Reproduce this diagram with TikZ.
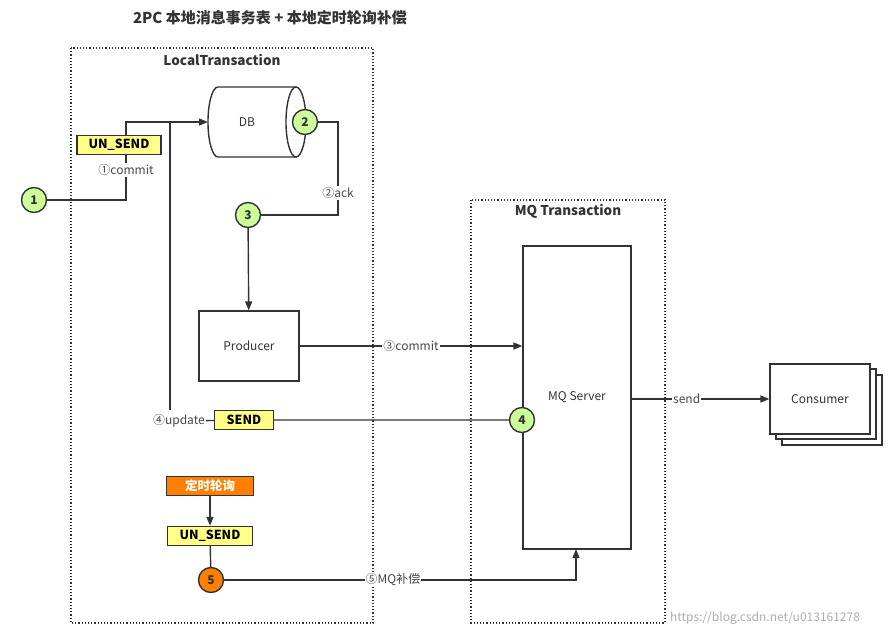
\documentclass[tikz,border=0pt]{standalone}
\usepackage{fontspec}
\setmainfont{Noto Sans CJK SC}
\usetikzlibrary{arrows.meta,shapes.geometric}
\definecolor{lc}{HTML}{333333}
\definecolor{gfill}{HTML}{CCFF99}
\definecolor{yfill}{HTML}{FFFF88}
\definecolor{ofill}{HTML}{FF8000}
\begin{document}
\begin{tikzpicture}[x=1pt,y=-1pt,
  fs/.style={font=\fontsize{12}{14}\selectfont},
  ln/.style={draw=lc,line width=1.4pt},
  arr/.style={ln,-{Triangle[length=9pt,width=7pt]}},
  circ/.style={circle,draw=lc,line width=1.4pt,fill=gfill,minimum size=25pt,inner sep=0pt,font=\fontsize{12}{14}\selectfont\bfseries,text=lc},
  tag/.style={rectangle,draw=lc,line width=1.4pt,fill=yfill,font=\fontsize{12.5}{14}\selectfont\bfseries,inner sep=0pt,minimum height=19pt},
  box/.style={rectangle,draw=lc,line width=1.2pt,fill=white,fs,text=lc},
  lbl/.style={fill=white,inner sep=1pt,fs,text=lc!90},
  frame/.style={draw=lc,line width=1.2pt,dotted}]
\useasboundingbox (0,0) rectangle (892,637);
\node[font=\fontsize{15}{18}\selectfont\bfseries,text=lc] (title) at (270,18) {2PC 本地消息事务表 + 本地定时轮询补偿};
\draw[frame] (71,48) rectangle (373,623);
\node[font=\fontsize{13.5}{16}\selectfont\bfseries,text=lc] (lt) at (222,60) {LocalTransaction};
\draw[frame] (471,200) rectangle (665,623);
\node[font=\fontsize{13.5}{16}\selectfont\bfseries,text=lc] (mt) at (568,211) {MQ Transaction};
% DB cylinder
\draw[ln,fill=white] (218,87) -- (296,87) -- (296,157) -- (218,157) .. controls (212.5,157) and (208,141.3) .. (208,122) .. controls (208,102.7) and (212.5,87) .. (218,87) -- cycle;
\draw[ln,fill=white] (296,122) ellipse [x radius=10, y radius=35];
\coordinate (db) at (208,122);
\node[fs,text=lc] (dbt) at (247,122) {DB};
\node[box,minimum width=100pt,minimum height=70pt] (prod) at (249,346) {Producer};
\node[box,minimum width=108pt,minimum height=303pt] (mq) at (577,397.5) {MQ Server};
\node[box,minimum width=100pt,minimum height=70pt] (c3) at (832,410) {};
\node[box,minimum width=100pt,minimum height=70pt] (c2) at (826,404) {};
\node[box,minimum width=100pt,minimum height=70pt] (cons) at (820,399) {Consumer};
\node[circ] (n1) at (34,200) {1};
\node[circ] (n2) at (305,122) {2};
\node[circ] (n3) at (248,215) {3};
\node[circ] (n4) at (522,420) {4};
\node[circ,fill=ofill] (n5) at (211,580) {5};
\coordinate (a1) at (126,200);
\coordinate (a2) at (126,122);
\draw[arr] (n1) -- (a1) -- (a2) -- (db);
\node[tag,minimum width=84pt] (us1) at (119,145) {UN\_SEND};
\node[lbl] (l1) at (126,170) {①commit};
\coordinate (b1) at (338,122);
\coordinate (b2) at (338,215);
\draw[ln] (n2) -- (b1) -- (b2) -- (n3);
\node[lbl] (l2) at (338,193) {②ack};
\draw[arr] (n3) -- (prod);
\draw[arr] (prod) -- (prod.east -| mq.west) node[lbl,pos=0.5] (l3) {③commit};
\coordinate (d1) at (170,410);
\coordinate (d2) at (170,122);
\draw[ln] (d1) -- (d2);
\node[tag,minimum width=59pt] (send) at (244,420) {SEND};
\node[lbl,anchor=east] (l4) at (206,421) {④update};
\draw[ln] (n4) -- (send) -- (l4);
\node[tag,fill=ofill,text=white,minimum width=87pt] (poll) at (210,486) {定时轮询};
\node[tag,minimum width=85pt] (us2) at (210,536) {UN\_SEND};
\draw[arr] (poll) -- (us2);
\draw[ln] (us2) -- (n5);
\coordinate (e1) at (576,580);
\draw[arr] (n5) -- (e1) -- (576,549);
\node[lbl] (l5) at (393,580) {⑤MQ补偿};
\draw[arr] (mq.east |- cons.west) -- (cons.west) node[lbl,pos=0.4] (l6) {send};
\node[fs,text=lc!40] (wm) at (765,618) {https://blog.csdn.net/u013161278};
\end{tikzpicture}
\end{document}
